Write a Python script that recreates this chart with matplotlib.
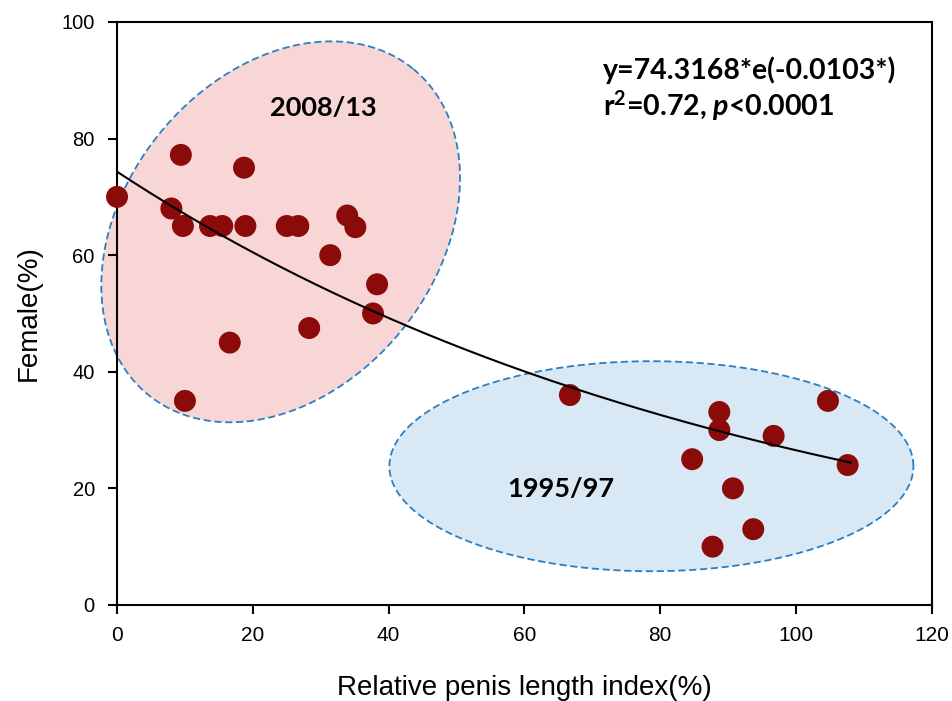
import matplotlib.pyplot as plt
import numpy as np
from matplotlib.patches import Polygon

plt.rcParams["font.family"] = ["Liberation Sans", "DejaVu Sans"]
plt.rcParams["mathtext.fontset"] = "custom"
plt.rcParams["mathtext.rm"] = "Lato:bold"
plt.rcParams["mathtext.it"] = "Lato:bold:italic"
plt.rcParams["mathtext.bf"] = "Lato:bold"

# 2008/13 survey
pli_2008 = [0, 9.4, 18.7, 8.0, 9.7, 13.7, 15.5, 18.9, 25.0, 26.7,
            33.9, 35.1, 31.4, 38.3, 37.7, 28.3, 16.6, 10.0]
female_2008 = [70, 77.2, 75, 68, 65, 65, 65, 65, 65, 65,
               66.8, 64.8, 60, 55, 50, 47.5, 45, 35]

# 1995/97 survey
pli_1995 = [66.7, 88.7, 88.7, 104.7, 96.7, 107.6, 84.7, 90.7, 93.7, 87.7]
female_1995 = [36, 33.1, 30, 35, 29, 24, 25, 20, 13, 10]

# exponential fit y = a * exp(b * x)
fit_a = 74.3168
fit_b = -0.0103
fit_xmax = 108

fig = plt.figure(figsize=(9.53, 7.01), dpi=100)
ax = fig.add_axes([0.1228, 0.137, 0.855, 0.8317])
ax.set_xlim(0, 120)
ax.set_ylim(0, 100)
fig.canvas.draw()


def group_ellipse(cx, cy, a_px, b_px, angle_deg, face):
    # ellipse sized in screen pixels, centred on a data point
    t = np.linspace(0, 2 * np.pi, 400)
    th = np.deg2rad(angle_deg)
    dx = a_px * np.cos(t) * np.cos(th) - b_px * np.sin(t) * np.sin(th)
    dy = a_px * np.cos(t) * np.sin(th) + b_px * np.sin(t) * np.cos(th)
    c = ax.transData.transform((cx, cy))
    pts = ax.transData.inverted().transform(np.column_stack([c[0] + dx, c[1] + dy]))
    ax.add_patch(Polygon(pts, closed=True, facecolor=face, edgecolor="#2a7fc4",
                         linestyle=(0, (4, 2)), linewidth=1.3, zorder=1,
                         clip_on=False))


group_ellipse(24.1, 64.0, 210, 156, 51, "#f7d6d5")
group_ellipse(78.7, 23.8, 262, 105, 0, "#d9e8f5")

ax.scatter(pli_2008 + pli_1995, female_2008 + female_1995, s=250,
           color="#8b0a0a", edgecolors="none", zorder=3, clip_on=False)

xf = np.linspace(0, fit_xmax, 200)
ax.plot(xf, fit_a * np.exp(fit_b * xf), color="black", linewidth=1.5, zorder=4)

lbl = dict(fontweight="bold", family="Lato", va="baseline", zorder=5)
ax.text(30.4, 83.9, "2008/13", ha="center", fontsize=19.5, **lbl)
ax.text(65.4, 18.5, "1995/97", ha="center", fontsize=19.5, **lbl)
ax.text(71.5, 90.2, "y=74.3168*e(-0.0103*)", ha="left", fontsize=20.5, **lbl)
ax.text(71.5, 83.9, "r$^2$=0.72, $p$<0.0001", ha="left", fontsize=20.5, **lbl)

ax.set_xticks(np.arange(0, 121, 20))
ax.set_yticks(np.arange(0, 101, 20))
ax.tick_params(direction="out", length=6.5, width=1.5)
ax.tick_params(axis="x", labelsize=15, pad=9)
ax.tick_params(axis="y", labelsize=14.5, pad=9.5)
for s in ax.spines.values():
    s.set_linewidth(1.5)

ax.set_xlabel("Relative penis length index(%)", fontsize=20, labelpad=21)
ax.set_ylabel("Female(%)", fontsize=20, labelpad=14)

fig.savefig("out.png", dpi=100)
